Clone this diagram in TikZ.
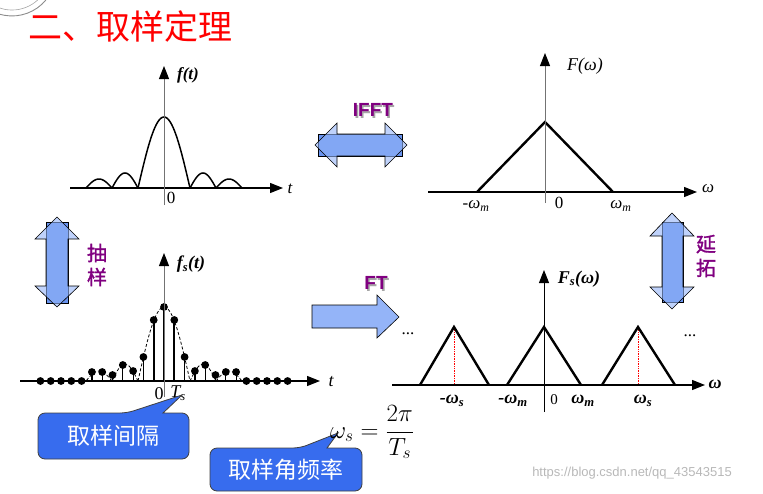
\documentclass[tikz,border=0pt]{standalone}
\usepackage{fontspec}
\setmainfont{Liberation Serif}
\newfontfamily\cjk{Noto Sans CJK SC}
\newfontfamily\cjkb[FakeBold=1.5]{Noto Sans CJK SC}
\newfontfamily\lsans{Liberation Sans}
\usetikzlibrary{arrows.meta}
\definecolor{arrowblue}{RGB}{105,148,240}
\definecolor{headblue}{RGB}{148,180,248}
\definecolor{callblue}{RGB}{55,108,238}
\definecolor{labpurple}{RGB}{128,0,128}
\tikzset{
	axis/.style={line width=1.2pt, -{Triangle[length=13pt,width=10pt]}},
	yaxis/.style={line width=1pt, black!55, -{Triangle[length=13pt,width=10pt,color=black]}},
	curve/.style={line width=1.5pt},
	tri/.style={line width=2.4pt, line join=miter},
	lab/.style={font=\fontsize{17}{17}\selectfont},
	blab/.style={font=\fontsize{18}{18}\selectfont\bfseries\itshape},
	callout/.style={fill=callblue, draw=black!75, line width=0.8pt},
	calltext/.style={text=white, font=\cjk\fontsize{23}{23}\selectfont},
	ftlabel/.style={text=labpurple, font=\lsans\bfseries\fontsize{19}{19}\selectfont},
	ftshadow/.style={text=black!35, font=\lsans\bfseries\fontsize{19}{19}\selectfont},
	vlabel/.style={text=labpurple, align=center, font=\cjkb\fontsize{20}{24}\selectfont},
	headpart/.style={fill=headblue, fill opacity=0.6, draw=black, line width=0.6pt},
	shaft/.style={fill=arrowblue, draw=black, line width=0.6pt},
}
% sinc-like envelope: main lobe and two side lobes on each side
\def\envelope[#1](#2)(#3:#4:#5){%
	\begin{scope}[shift={(#2)}]
		\draw[#1] plot[domain=-26:26,samples=41] (\x,{-(#3)*cos(90*\x/26)});
		\foreach \s in {1,-1}{
			\draw[#1,xscale=\s] plot[domain=26:52,samples=25] (\x,{-(#4)*sin(180*(\x-26)/26)});
			\draw[#1,xscale=\s] plot[domain=52:78,samples=25] (\x,{-(#5)*sin(180*(\x-52)/26)});
		}
	\end{scope}}

\begin{document}
\begin{tikzpicture}[x=1pt,y=-1pt]
		%%%%% START %%%%%
		\useasboundingbox (0,0) rectangle (763,493);
		
		% seal in the corner
		\draw[black!45, line width=0.9pt] (45.9,0) arc[start angle=39.6, end angle=140.4, radius=44];
		\draw[black!35, line width=0.6pt] (37.7,0) arc[start angle=47.4, end angle=132.6, radius=38];
		
		\node[text=red, font=\cjk\fontsize{34}{34}\selectfont] (title) at (130,27) {二、取样定理};
		
		%%%%% f(t) %%%%%
		\envelope[curve](164,188)(71:15:9)
		\draw[axis] (70,188) -- (283,188);
		\draw[yaxis] (164,205) -- (164,66);
		\node[lab, font=\fontsize{17}{17}\selectfont\bfseries\itshape] (ft) at (188,75) {f(t)};
		\node[lab, font=\fontsize{17}{17}\selectfont\itshape] (tA) at (290,189) {t};
		\node[lab] (zA) at (171,198) {0};
		
		%%%%% F(w) %%%%%
		\draw[tri] (477,192) -- (545,122) -- (613,192);
		\draw[axis] (428,192) -- (697,192);
		\draw[yaxis] (545,203) -- (545,53);
		\node[lab, font=\fontsize{18}{18}\selectfont\itshape] (Fw) at (585,66) {F(ω)};
		\node[lab] (mA) at (476,206) {-\textit{ω}\textsubscript{\textit{m}}};
		\node[lab] (zB) at (559,203) {0};
		\node[lab] (pA) at (621,206) {\textit{ω}\textsubscript{\textit{m}}};
		\node[lab, font=\fontsize{17}{17}\selectfont\itshape] (wA) at (708,189) {ω};
		
		%%%%% f_s(t) %%%%%
		\envelope[line width=0.8pt, dash pattern=on 3pt off 2pt](164,381)(74:17:10)
		\foreach \n/\h in {2/24,3/10,4/16,5/6,6/9,7/9,8/0,9/0,10/0,11/0,12/0}{
			\foreach \s in {1,-1}{
				\draw[line width=1.2pt] (164+\s*\n*10.3,381) -- ++(0,-\h);
				\fill (164+\s*\n*10.3,381-\h) circle[radius=3.9pt];
			}
		}
		\foreach \n/\h in {-1/61,0/74,1/61}{
			\draw[line width=2pt] (164+\n*10.3,381) -- ++(0,-\h);
			\fill (164+\n*10.3,381-\h) circle[radius=3.9pt];
		}
		\draw[axis] (20,381) -- (320,381);
		\draw[yaxis] (164,397) -- (164,253);
		\node[blab] (fst) at (191,264) {f\textsubscript{s}(t)};
		\node[lab, font=\fontsize{18}{18}\selectfont\itshape] (tB) at (331,382) {t};
		\node[lab, font=\fontsize{18}{18}\selectfont] (zC) at (159,394) {0};
		\node[lab, font=\fontsize{18}{18}\selectfont\itshape] (Ts) at (178,393) {T\textsubscript{s}};
		
		%%%%% F_s(w) %%%%%
		\draw[red, densely dotted, line width=0.7pt] (454,327) -- (454,385);
		\draw[red, densely dotted, line width=0.7pt] (638,327) -- (638,385);
		\draw[tri] (420,385) -- (454,327) -- (489,385);
		\draw[tri] (507,385) -- (544,327) -- (581,385);
		\draw[tri] (602,385) -- (638,327) -- (675,385);
		\draw[axis] (392,385) -- (705,385);
		\draw[line width=1pt, -{Triangle[length=13pt,width=10pt]}] (544,412) -- (544,270);
		\node[blab] (Fsw) at (579,279) {F\textsubscript{s}(ω)};
		\node[blab] (wB) at (715,384) {ω};
		\node[blab] (msB) at (452,401) {-ω\textsubscript{s}};
		\node[blab] (mmB) at (513,401) {-ω\textsubscript{m}};
		\node[lab, font=\fontsize{15}{15}\selectfont] (zD) at (554,400) {0};
		\node[blab] (pmB) at (583,401) {ω\textsubscript{m}};
		\node[blab] (psB) at (643,401) {ω\textsubscript{s}};
		\node[lab] (dotsL) at (408,334) {...};
		\node[lab] (dotsR) at (690,336) {...};
		
		%%%%% block arrows %%%%%
		\draw[shaft] (318,134) rectangle (402,156);
		\draw[headpart] (315,145) -- (337,123) -- (337,134) -- (385,134) -- (385,123) -- (407,145)
			-- (385,167) -- (385,156) -- (337,156) -- (337,167) -- cycle;
		\node[ftshadow] at (374.5,111.5) {IFFT};
		\node[ftlabel] (ifft) at (373,110) {IFFT};
		
		\draw[shaft] (46,222) rectangle (68,303);
		\draw[headpart] (57,217) -- (79,239) -- (68,239) -- (68,286) -- (79,286) -- (57,307)
			-- (35,286) -- (46,286) -- (46,239) -- (35,239) -- cycle;
		\node[vlabel] (chy) at (97,265) {抽\\样};
		
		\draw[shaft] (662,222) rectangle (683,302);
		\draw[headpart] (672,213) -- (694,236) -- (683,236) -- (683,287) -- (694,287) -- (672,309)
			-- (650,287) -- (662,287) -- (662,236) -- (650,236) -- cycle;
		\node[vlabel] (yt) at (706,256) {延\\拓};
		
		\draw[fill=headblue, draw=black, line width=0.6pt] (312,305) -- (377,305) -- (377,295) -- (399,317)
			-- (377,338) -- (377,328) -- (312,328) -- cycle;
		\node[ftshadow] at (377.5,284.5) {FT};
		\node[ftlabel] (ft2) at (376,283) {FT};
		
		%%%%% callouts %%%%%
		\draw[callout] (38,436) [rounded corners=7pt] -- (38,413) -- (127,413) [sharp corners] -- (182,395)
			-- (163,413) [rounded corners=7pt] -- (189,413) -- (189,459) -- (38,459) -- cycle;
		\node[calltext] (gap) at (113,436) {取样间隔};
		
		\draw[callout] (210,470) [rounded corners=7pt] -- (210,448) -- (300,448) [sharp corners] -- (338,433)
			-- (327,448) [rounded corners=7pt] -- (362,448) -- (362,491) -- (210,491) -- cycle;
		\node[calltext] (rate) at (286,470) {取样角频率};
		
		\node[font=\fontsize{24}{24}\selectfont] (ws) at (372,432) {$\displaystyle \omega_s=\frac{2\pi}{T_s}$};
		
		\node[text=black!28, font=\lsans\fontsize{13}{13}\selectfont] (wm) at (632,473) {https://blog.csdn.net/qq\_43543515};
		%%%%% END %%%%%
	\end{tikzpicture}
\end{document}
